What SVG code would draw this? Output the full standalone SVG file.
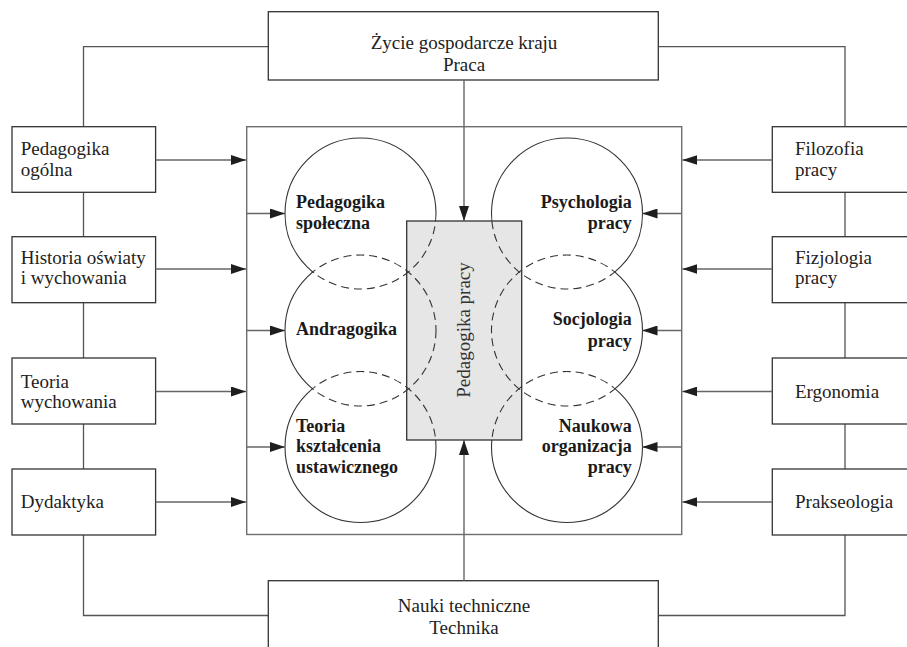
<svg xmlns="http://www.w3.org/2000/svg" width="907" height="647" viewBox="0 0 907 647">
<style>
.box{fill:#fff;stroke:#333;stroke-width:1.3}
.frame{fill:none;stroke:#6e6e6e;stroke-width:1.4}
.line{fill:none;stroke:#555;stroke-width:1.3}
.arr{fill:none;stroke:#666;stroke-width:1.4;marker-end:url(#ah)}
.t{font-family:"Liberation Serif","Times New Roman",serif;font-size:19px;fill:#222}
.b{font-family:"Liberation Serif","Times New Roman",serif;font-size:18px;font-weight:bold;fill:#1a1a1a}
.c{fill:none;stroke:#333;stroke-width:1.1}
.cd{fill:none;stroke:#333;stroke-width:1.1;stroke-dasharray:8 5}
</style>
<defs>
<marker id="ah" markerUnits="userSpaceOnUse" markerWidth="15" markerHeight="10" refX="15" refY="5" orient="auto">
<path d="M0,0 L15,5 L0,10 z" fill="#1e1e1e"/>
</marker>
<mask id="mSolid" maskUnits="userSpaceOnUse" x="0" y="0" width="907" height="647">
<rect x="0" y="0" width="907" height="647" fill="#fff"/>
<rect x="406.7" y="221" width="115" height="219" fill="#000"/>
<circle cx="360.5" cy="213.5" r="74" fill="#000"/>
<circle cx="360.5" cy="330.5" r="74" fill="#000"/>
<circle cx="360.5" cy="447" r="74" fill="#000"/>
<circle cx="567" cy="213.5" r="74" fill="#000"/>
<circle cx="567" cy="330.5" r="74" fill="#000"/>
<circle cx="567" cy="447" r="74" fill="#000"/>
</mask>
<mask id="mDash" maskUnits="userSpaceOnUse" x="0" y="0" width="907" height="647">
<rect x="0" y="0" width="907" height="647" fill="#000"/>
<rect x="406.7" y="221" width="115" height="219" fill="#fff"/>
<circle cx="360.5" cy="213.5" r="74" fill="#fff"/>
<circle cx="360.5" cy="330.5" r="74" fill="#fff"/>
<circle cx="360.5" cy="447" r="74" fill="#fff"/>
<circle cx="567" cy="213.5" r="74" fill="#fff"/>
<circle cx="567" cy="330.5" r="74" fill="#fff"/>
<circle cx="567" cy="447" r="74" fill="#fff"/>
</mask>
</defs>
<rect width="907" height="647" fill="#fff"/>

<g id="connectors">
<path class="line" d="M268,46.7 H83.5 V615.5 H268"/>
<path class="line" d="M659,46.7 H845 V615.5 H659"/>
</g>

<g id="frame">
<rect class="frame" x="246.7" y="126.7" width="435" height="407.8"/>
</g>

<g id="top-box">
<rect class="box" x="268.3" y="11.7" width="390" height="68.3"/>
<text class="t" x="464" y="49" text-anchor="middle">Życie gospodarcze kraju</text>
<text class="t" x="464" y="71" text-anchor="middle">Praca</text>
</g>

<g id="bottom-box">
<rect class="box" x="268.3" y="580.7" width="390" height="70"/>
<text class="t" x="464" y="611.7" text-anchor="middle">Nauki techniczne</text>
<text class="t" x="464" y="634.3" text-anchor="middle">Technika</text>
</g>

<g id="pedagogika-ogolna">
<rect class="box" x="12" y="126.7" width="143.6" height="65.6"/>
<text class="t" x="20.7" y="155">Pedagogika</text>
<text class="t" x="20.7" y="175.7">ogólna</text>
</g>
<g id="historia">
<rect class="box" x="12" y="236.7" width="143.6" height="66"/>
<text class="t" x="20.7" y="264">Historia oświaty</text>
<text class="t" x="20.7" y="284.3">i wychowania</text>
</g>
<g id="teoria-wychowania">
<rect class="box" x="12" y="358" width="143.6" height="66"/>
<text class="t" x="20.7" y="387.7">Teoria</text>
<text class="t" x="20.7" y="407.7">wychowania</text>
</g>
<g id="dydaktyka">
<rect class="box" x="12" y="469" width="143.6" height="66"/>
<text class="t" x="20.7" y="508.3">Dydaktyka</text>
</g>

<g id="filozofia">
<rect class="box" x="772.3" y="126.7" width="143.6" height="65.6"/>
<text class="t" x="795" y="155">Filozofia</text>
<text class="t" x="795" y="175.7">pracy</text>
</g>
<g id="fizjologia">
<rect class="box" x="772.3" y="236.7" width="143.6" height="66"/>
<text class="t" x="795" y="264">Fizjologia</text>
<text class="t" x="795" y="284.3">pracy</text>
</g>
<g id="ergonomia">
<rect class="box" x="772.3" y="358" width="143.6" height="66"/>
<text class="t" x="795" y="398.3">Ergonomia</text>
</g>
<g id="prakseologia">
<rect class="box" x="772.3" y="469" width="143.6" height="66"/>
<text class="t" x="795" y="508.3">Prakseologia</text>
</g>

<g id="pedagogika-pracy">
<rect x="406.7" y="221" width="115" height="219" fill="#e6e6e6" stroke="#333" stroke-width="1.3"/>
<text class="t" transform="translate(470,330) rotate(-90)" text-anchor="middle" style="fill:#333">Pedagogika pracy</text>
</g>

<g id="circles-solid" mask="url(#mSolid)">
<circle class="c" cx="360.5" cy="213.5" r="75.5"/>
<circle class="c" cx="360.5" cy="330.5" r="75.5"/>
<circle class="c" cx="360.5" cy="447" r="75.5"/>
<circle class="c" cx="567" cy="213.5" r="75.5"/>
<circle class="c" cx="567" cy="330.5" r="75.5"/>
<circle class="c" cx="567" cy="447" r="75.5"/>
</g>
<g id="circles-dashed" mask="url(#mDash)">
<circle class="cd" cx="360.5" cy="213.5" r="75.5"/>
<circle class="cd" cx="360.5" cy="330.5" r="75.5"/>
<circle class="cd" cx="360.5" cy="447" r="75.5"/>
<circle class="cd" cx="567" cy="213.5" r="75.5"/>
<circle class="cd" cx="567" cy="330.5" r="75.5"/>
<circle class="cd" cx="567" cy="447" r="75.5"/>
</g>

<g id="pedagogika-spoleczna">
<text class="b" x="296" y="208">Pedagogika</text>
<text class="b" x="296" y="229">społeczna</text>
</g>
<g id="andragogika">
<text class="b" x="296" y="335">Andragogika</text>
</g>
<g id="teoria-ksztalcenia">
<text class="b" x="296" y="431.5">Teoria</text>
<text class="b" x="296" y="452">kształcenia</text>
<text class="b" x="296" y="472.5">ustawicznego</text>
</g>
<g id="psychologia-pracy">
<text class="b" x="631.7" y="208" text-anchor="end">Psychologia</text>
<text class="b" x="631.7" y="229" text-anchor="end">pracy</text>
</g>
<g id="socjologia-pracy">
<text class="b" x="631.7" y="325" text-anchor="end">Socjologia</text>
<text class="b" x="631.7" y="346.5" text-anchor="end">pracy</text>
</g>
<g id="naukowa-organizacja">
<text class="b" x="631.7" y="431.5" text-anchor="end">Naukowa</text>
<text class="b" x="631.7" y="452" text-anchor="end">organizacja</text>
<text class="b" x="631.7" y="472.5" text-anchor="end">pracy</text>
</g>

<g id="arrows">
<path class="arr" d="M464,80 V221"/>
<path class="arr" d="M464,580.7 V440"/>
<path class="arr" d="M155.6,160 H246"/>
<path class="arr" d="M155.6,269 H246"/>
<path class="arr" d="M155.6,391.5 H246"/>
<path class="arr" d="M155.6,502 H246"/>
<path class="arr" d="M246.7,213.5 H285"/>
<path class="arr" d="M246.7,330.5 H285"/>
<path class="arr" d="M246.7,447 H285"/>
<path class="arr" d="M772.3,160 H682.4"/>
<path class="arr" d="M772.3,269 H682.4"/>
<path class="arr" d="M772.3,391.5 H682.4"/>
<path class="arr" d="M772.3,502 H682.4"/>
<path class="arr" d="M681.7,213.5 H642.5"/>
<path class="arr" d="M681.7,330.5 H642.5"/>
<path class="arr" d="M681.7,447 H642.5"/>
</g>
</svg>
